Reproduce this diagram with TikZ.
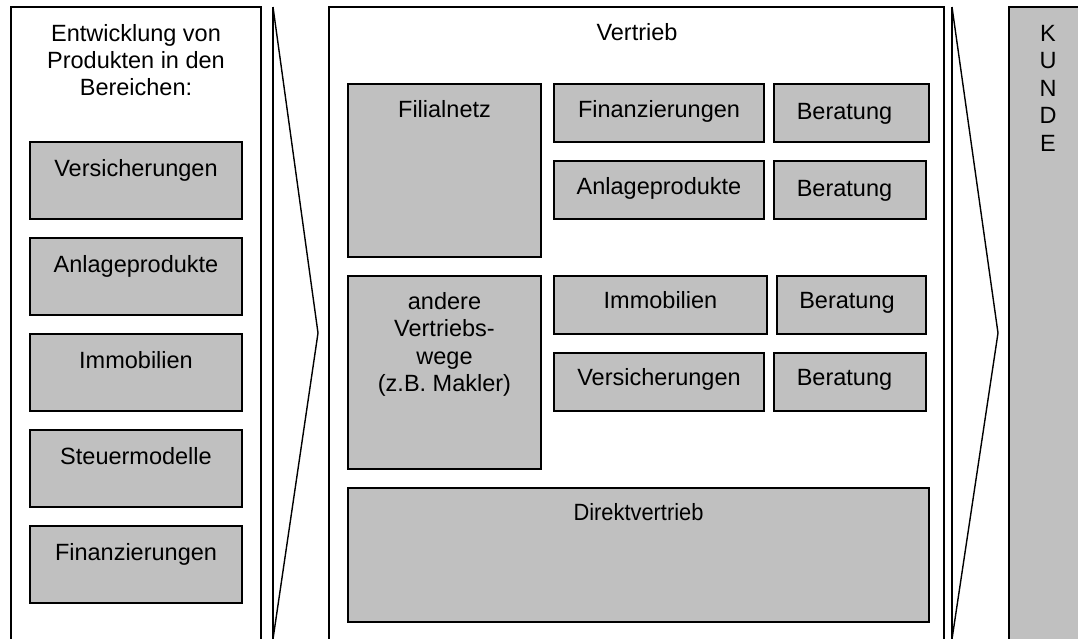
\documentclass[tikz,border=0pt]{standalone}
\usepackage{fontspec}
\setmainfont{Liberation Sans}
\definecolor{boxgray}{RGB}{192,192,192}
\begin{document}
\begin{tikzpicture}[x=1pt,y=-1pt,
  txt/.style={font=\fontsize{23.5}{27.3}\selectfont, align=center, inner sep=0pt, text=black},
  outerbox/.style={draw=black, line width=1.3pt, fill=white},
  gbox/.style={draw=black, line width=1.8pt, fill=boxgray, rectangle, anchor=north west, inner sep=0pt, outer sep=0pt},
  chev/.style={draw=black, line width=1.4pt, line join=miter}]
\useasboundingbox (0,0) rectangle (1078,638);
\clip (0,0) rectangle (1078,638);
\fill[white] (0,0) rectangle (1078,638);
% outer frames
\draw[outerbox] (11,7) rectangle (261,660);
\draw[outerbox] (329,7) rectangle (944,660);
\draw[draw=black, line width=1.3pt, fill=boxgray] (1009,7) rectangle (1100,660);
% chevrons
\coordinate (c1t) at (273,7);
\coordinate (c1p) at (318,333);
\coordinate (c1b) at (273,639);
\draw[chev] (273,660) -- (c1t);
\draw[chev] (c1t) -- (c1p) -- (c1b);
\coordinate (c2t) at (952,7);
\coordinate (c2p) at (998,333);
\coordinate (c2b) at (952,639);
\draw[chev] (952,660) -- (c2t);
\draw[chev] (c2t) -- (c2p) -- (c2b);
% left column (multi-line nodes: base = last line's baseline)
\node[txt, anchor=base] (hdr) at (136,95.6) {Entwicklung von\\Produkten in den\\Bereichen:};
\node[gbox, minimum width=212pt, minimum height=77pt] (l1) at (30,142) {};
\node[gbox, minimum width=212pt, minimum height=77pt] (l2) at (30,238) {};
\node[gbox, minimum width=212pt, minimum height=77pt] (l3) at (30,334) {};
\node[gbox, minimum width=212pt, minimum height=77pt] (l4) at (30,430) {};
\node[gbox, minimum width=212pt, minimum height=77pt] (l5) at (30,526) {};
\node[txt, anchor=base] (l1t) at ([yshift=-34pt]l1.north) {Versicherungen};
\node[txt, anchor=base] (l2t) at ([yshift=-34pt]l2.north) {Anlageprodukte};
\node[txt, anchor=base] (l3t) at ([yshift=-34pt]l3.north) {Immobilien};
\node[txt, anchor=base] (l4t) at ([yshift=-34pt]l4.north) {Steuermodelle};
\node[txt, anchor=base] (l5t) at ([yshift=-34pt]l5.north) {Finanzierungen};
% middle
\node[txt, anchor=base] (vt) at (637,40) {Vertrieb};
\node[gbox, minimum width=193pt, minimum height=173pt] (fil) at (348,84) {};
\node[gbox, minimum width=210pt, minimum height=58pt] (fin) at (554,84) {};
\node[gbox, minimum width=155pt, minimum height=58pt] (b1) at (774,84) {};
\node[gbox, minimum width=210pt, minimum height=58pt] (anl) at (554,161) {};
\node[gbox, minimum width=152pt, minimum height=58pt] (b2) at (774,161) {};
\node[gbox, minimum width=193pt, minimum height=193pt] (and) at (348,276) {};
\node[gbox, minimum width=213pt, minimum height=58pt] (imm) at (554,276) {};
\node[gbox, minimum width=149pt, minimum height=58pt] (b3) at (777,276) {};
\node[gbox, minimum width=210pt, minimum height=58pt] (ver) at (554,353) {};
\node[gbox, minimum width=152pt, minimum height=58pt] (b4) at (774,353) {};
\node[gbox, minimum width=581pt, minimum height=134pt] (dir) at (348,488) {};
\node[txt, anchor=base] (filt) at ([yshift=-33pt]fil.north) {Filialnetz};
\node[txt, anchor=base] (fint) at ([yshift=-33pt]fin.north) {Finanzierungen};
\node[txt, anchor=base] (b1t) at ([xshift=-7pt,yshift=-35pt]b1.north) {Beratung};
\node[txt, anchor=base] (anlt) at ([yshift=-33pt]anl.north) {Anlageprodukte};
\node[txt, anchor=base] (b2t) at ([xshift=-5.5pt,yshift=-35pt]b2.north) {Beratung};
\node[txt, anchor=base] (andt) at ([yshift=-115.5pt]and.north) {andere\\Vertriebs-\\wege\\(z.B. Makler)};
\node[txt, anchor=base] (immt) at ([yshift=-32pt]imm.north) {Immobilien};
\node[txt, anchor=base] (b3t) at ([xshift=-4.5pt,yshift=-32pt]b3.north) {Beratung};
\node[txt, anchor=base] (vert) at ([yshift=-32pt]ver.north) {Versicherungen};
\node[txt, anchor=base] (b4t) at ([xshift=-5.5pt,yshift=-32pt]b4.north) {Beratung};
\node[txt, anchor=base, xscale=0.93] (dirt) at ([yshift=-32pt]dir.north) {Direktvertrieb};
% KUNDE
\node[txt, anchor=base, font=\fontsize{23.5}{27.5}\selectfont] (kd) at (1048,151) {K\\U\\N\\D\\E};
\end{tikzpicture}
\end{document}
